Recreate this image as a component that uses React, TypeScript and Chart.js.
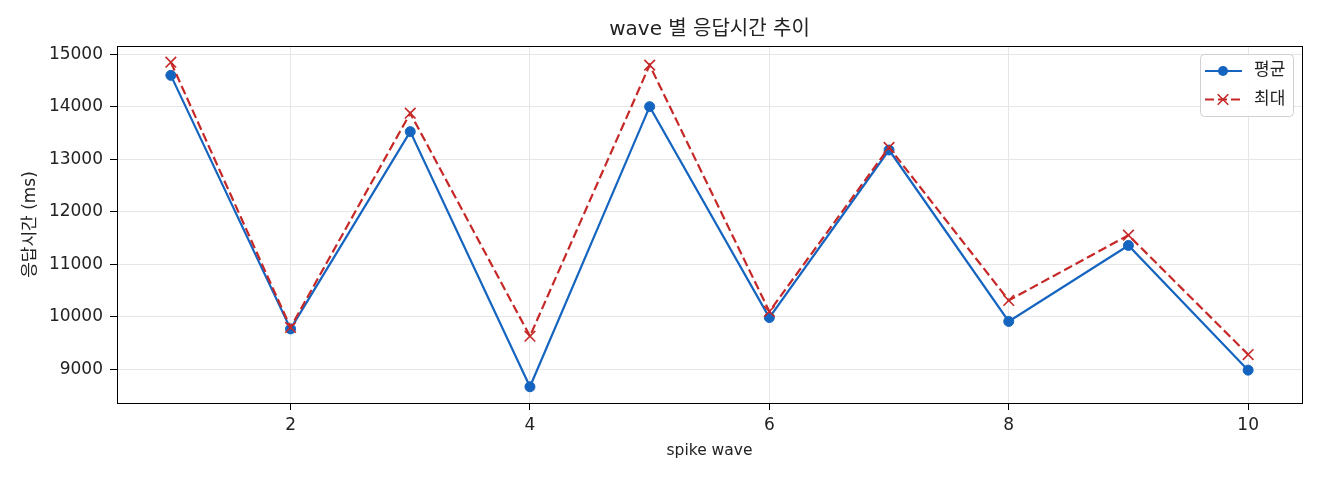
import { useEffect, useRef } from "react";
import { Chart, registerables, Plugin } from "chart.js";

Chart.register(...registerables);

// spike wave 번호
const waves = [1, 2, 3, 4, 5, 6, 7, 8, 9, 10];
// 평균 응답시간 (ms)
const avgMs = [14595, 9772, 13525, 8672, 14000, 9988, 13175, 9915, 11360, 8988];
// 최대 응답시간 (ms)
const maxMs = [14845, 9800, 13875, 9635, 14790, 10105, 13225, 10315, 11555, 9285];
const xTicks = [2, 4, 6, 8, 10];
const yTicks = [9000, 10000, 11000, 12000, 13000, 14000, 15000];

const BLUE = "#1565C0";
const RED = "#C62828";
const TEXT = "#222222";
const KR = "'DejaVu Sans', 'Noto Sans CJK KR', sans-serif";

// matplotlib-style 5% margins
const padRange = (vals: number[]) => {
  const lo = Math.min(...vals);
  const hi = Math.max(...vals);
  const m = (hi - lo) * 0.05;
  return [lo - m, hi + m];
};

const [xMin, xMax] = padRange(waves);
const [yMin, yMax] = padRange([...avgMs, ...maxMs]);

const decor: Plugin<"line"> = {
  id: "decor",
  afterDraw(chart) {
    const { ctx, chartArea } = chart;
    const { left, right, top, bottom } = chartArea;
    ctx.save();

    // axes frame
    ctx.strokeStyle = "#000";
    ctx.lineWidth = 1;
    ctx.strokeRect(left + 0.5, top + 0.5, right - left, bottom - top);

    // title
    ctx.fillStyle = TEXT;
    ctx.font = `20px ${KR}`;
    ctx.textAlign = "center";
    ctx.textBaseline = "middle";
    ctx.fillText("wave 별 응답시간 추이", (left + right) / 2, 30);

    // legend
    const w = 93;
    const h = 62;
    const bx = right - 9 - w;
    const by = top + 8;
    ctx.beginPath();
    ctx.roundRect(bx + 0.5, by + 0.5, w, h, 4);
    ctx.fillStyle = "rgba(255,255,255,0.85)";
    ctx.fill();
    ctx.strokeStyle = "#d0d0d0";
    ctx.stroke();

    chart.data.datasets.forEach((ds: any, i) => {
      const y = by + 17 + i * 28.5;
      ctx.strokeStyle = ds.borderColor;
      ctx.lineWidth = ds.borderWidth;
      ctx.setLineDash(ds.borderDash || []);
      ctx.beginPath();
      ctx.moveTo(bx + 5, y);
      ctx.lineTo(bx + 42, y);
      ctx.stroke();
      ctx.setLineDash([]);
      const cx = bx + 23;
      if (ds.pointStyle === "circle") {
        ctx.fillStyle = ds.borderColor;
        ctx.beginPath();
        ctx.arc(cx, y, ds.pointRadius, 0, Math.PI * 2);
        ctx.fill();
      } else {
        const r = ds.pointRadius * Math.SQRT1_2;
        ctx.lineWidth = ds.pointBorderWidth;
        ctx.beginPath();
        ctx.moveTo(cx - r, y - r);
        ctx.lineTo(cx + r, y + r);
        ctx.moveTo(cx - r, y + r);
        ctx.lineTo(cx + r, y - r);
        ctx.stroke();
      }
      ctx.fillStyle = TEXT;
      ctx.font = `17px ${KR}`;
      ctx.textAlign = "left";
      ctx.textBaseline = "middle";
      ctx.fillText(ds.label, bx + 54, y);
    });

    ctx.restore();
  },
};

export default function App() {
  const canvasRef = useRef<HTMLCanvasElement>(null);

  useEffect(() => {
    if (!canvasRef.current) return;

    const chart = new Chart(canvasRef.current, {
      type: "line",
      data: {
        datasets: [
          {
            label: "평균",
            data: waves.map((x, i) => ({ x, y: avgMs[i] })),
            borderColor: BLUE,
            backgroundColor: BLUE,
            borderWidth: 2.2,
            pointStyle: "circle",
            pointRadius: 5,
            pointBorderWidth: 1,
            tension: 0,
            order: 1,
          },
          {
            label: "최대",
            data: waves.map((x, i) => ({ x, y: maxMs[i] })),
            borderColor: RED,
            backgroundColor: RED,
            borderWidth: 2.2,
            borderDash: [9, 4],
            pointStyle: "crossRot",
            pointRadius: 7.5,
            pointBorderWidth: 1.6,
            tension: 0,
            order: 0,
          },
        ],
      },
      options: {
        responsive: false,
        animation: false,
        devicePixelRatio: 1,
        layout: { padding: { top: 46, right: 18, bottom: 0, left: 0 } },
        plugins: {
          legend: { display: false },
          title: { display: false },
          tooltip: { enabled: false },
        },
        scales: {
          x: {
            type: "linear",
            min: xMin,
            max: xMax,
            afterBuildTicks: (scale) => {
              scale.ticks = xTicks.map((value) => ({ value }));
            },
            afterFit: (scale) => {
              scale.height = 77;
            },
            grid: {
              color: "#e6e6e6",
              lineWidth: 1,
              tickColor: "#000",
              tickLength: 7,
            },
            border: { color: "#000", width: 1 },
            ticks: {
              color: TEXT,
              font: { family: KR, size: 17 },
              padding: 5,
              maxRotation: 0,
            },
            title: {
              display: true,
              text: "spike wave",
              color: TEXT,
              font: { family: KR, size: 15.5 },
              padding: { top: 0, bottom: 20 },
            },
          },
          y: {
            type: "linear",
            min: yMin,
            max: yMax,
            afterBuildTicks: (scale) => {
              scale.ticks = yTicks.map((value) => ({ value }));
            },
            afterFit: (scale) => {
              scale.width = 117;
            },
            grid: {
              color: "#e6e6e6",
              lineWidth: 1,
              tickColor: "#000",
              tickLength: 7,
            },
            border: { color: "#000", width: 1 },
            ticks: {
              color: TEXT,
              font: { family: KR, size: 17 },
              padding: 7,
              callback: (v) => String(v),
            },
            title: {
              display: true,
              text: "응답시간 (ms)",
              color: TEXT,
              font: { family: KR, size: 17 },
              padding: { top: 20, bottom: 0 },
            },
          },
        },
      },
      plugins: [decor],
    });

    return () => {
      chart.destroy();
    };
  }, []);

  return (
    <div style={{ position: "absolute", left: 0, top: 0, width: 1320, height: 480, background: "#fff" }}>
      <canvas ref={canvasRef} width={1320} height={480} />
    </div>
  );
}
